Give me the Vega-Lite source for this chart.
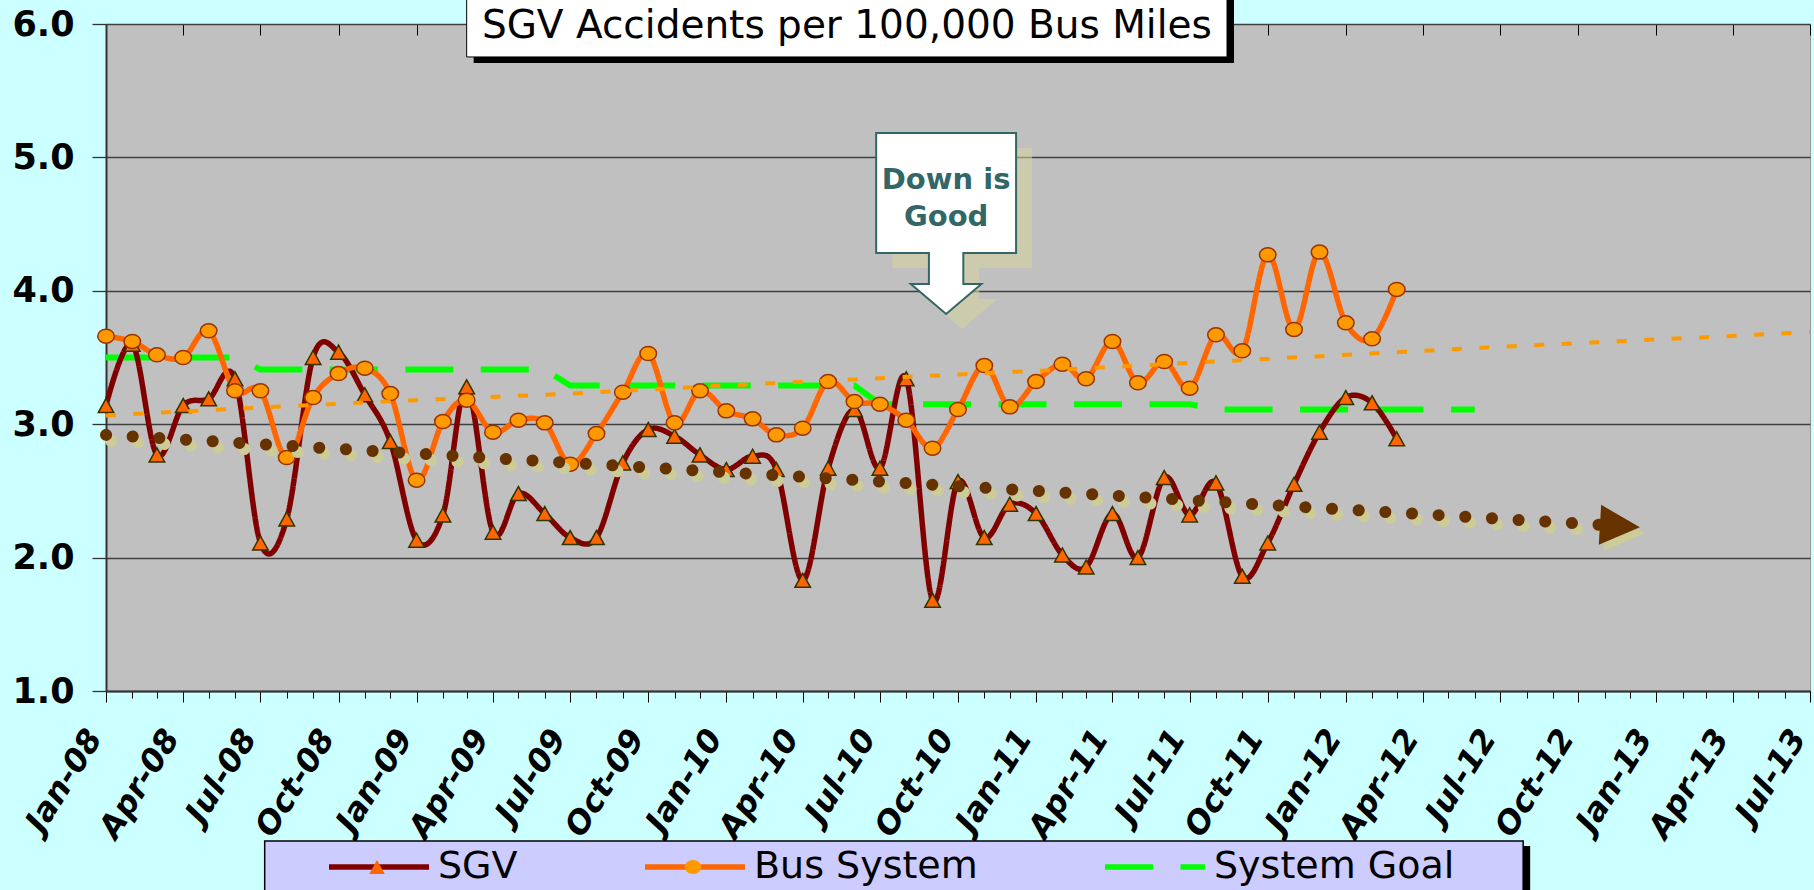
{
  "$schema": "https://vega.github.io/schema/vega-lite/v6.json",
  "width": 1704,
  "height": 667,
  "autosize": {"type": "none"},
  "padding": {"left": 106, "top": 24, "right": 4, "bottom": 199},
  "background": "#CCFFFF",
  "config": {
    "view": {"fill": "#C0C0C0", "stroke": "#999999", "strokeWidth": 1}
  },
  "datasets": {
    "series": [
      {"date": "2008/01/01", "series": "SGV", "value": 3.14},
      {"date": "2008/02/01", "series": "SGV", "value": 3.60},
      {"date": "2008/03/01", "series": "SGV", "value": 2.77},
      {"date": "2008/04/01", "series": "SGV", "value": 3.14},
      {"date": "2008/05/01", "series": "SGV", "value": 3.19},
      {"date": "2008/06/01", "series": "SGV", "value": 3.34},
      {"date": "2008/07/01", "series": "SGV", "value": 2.11},
      {"date": "2008/08/01", "series": "SGV", "value": 2.29},
      {"date": "2008/09/01", "series": "SGV", "value": 3.50},
      {"date": "2008/10/01", "series": "SGV", "value": 3.54},
      {"date": "2008/11/01", "series": "SGV", "value": 3.22},
      {"date": "2008/12/01", "series": "SGV", "value": 2.87},
      {"date": "2009/01/01", "series": "SGV", "value": 2.13},
      {"date": "2009/02/01", "series": "SGV", "value": 2.32},
      {"date": "2009/03/01", "series": "SGV", "value": 3.28},
      {"date": "2009/04/01", "series": "SGV", "value": 2.19},
      {"date": "2009/05/01", "series": "SGV", "value": 2.48},
      {"date": "2009/06/01", "series": "SGV", "value": 2.33},
      {"date": "2009/07/01", "series": "SGV", "value": 2.15},
      {"date": "2009/08/01", "series": "SGV", "value": 2.15},
      {"date": "2009/09/01", "series": "SGV", "value": 2.71},
      {"date": "2009/10/01", "series": "SGV", "value": 2.96},
      {"date": "2009/11/01", "series": "SGV", "value": 2.91},
      {"date": "2009/12/01", "series": "SGV", "value": 2.77},
      {"date": "2010/01/01", "series": "SGV", "value": 2.66},
      {"date": "2010/02/01", "series": "SGV", "value": 2.76},
      {"date": "2010/03/01", "series": "SGV", "value": 2.66},
      {"date": "2010/04/01", "series": "SGV", "value": 1.83},
      {"date": "2010/05/01", "series": "SGV", "value": 2.67},
      {"date": "2010/06/01", "series": "SGV", "value": 3.11},
      {"date": "2010/07/01", "series": "SGV", "value": 2.67},
      {"date": "2010/08/01", "series": "SGV", "value": 3.34},
      {"date": "2010/09/01", "series": "SGV", "value": 1.68},
      {"date": "2010/10/01", "series": "SGV", "value": 2.57},
      {"date": "2010/11/01", "series": "SGV", "value": 2.15},
      {"date": "2010/12/01", "series": "SGV", "value": 2.40},
      {"date": "2011/01/01", "series": "SGV", "value": 2.33},
      {"date": "2011/02/01", "series": "SGV", "value": 2.02},
      {"date": "2011/03/01", "series": "SGV", "value": 1.93},
      {"date": "2011/04/01", "series": "SGV", "value": 2.33},
      {"date": "2011/05/01", "series": "SGV", "value": 2.00},
      {"date": "2011/06/01", "series": "SGV", "value": 2.60},
      {"date": "2011/07/01", "series": "SGV", "value": 2.32},
      {"date": "2011/08/01", "series": "SGV", "value": 2.56},
      {"date": "2011/09/01", "series": "SGV", "value": 1.86},
      {"date": "2011/10/01", "series": "SGV", "value": 2.11},
      {"date": "2011/11/01", "series": "SGV", "value": 2.55},
      {"date": "2011/12/01", "series": "SGV", "value": 2.94},
      {"date": "2012/01/01", "series": "SGV", "value": 3.20},
      {"date": "2012/02/01", "series": "SGV", "value": 3.16},
      {"date": "2012/03/01", "series": "SGV", "value": 2.89},
      {"date": "2008/01/01", "series": "Bus System", "value": 3.66},
      {"date": "2008/02/01", "series": "Bus System", "value": 3.62},
      {"date": "2008/03/01", "series": "Bus System", "value": 3.52},
      {"date": "2008/04/01", "series": "Bus System", "value": 3.50},
      {"date": "2008/05/01", "series": "Bus System", "value": 3.70},
      {"date": "2008/06/01", "series": "Bus System", "value": 3.25},
      {"date": "2008/07/01", "series": "Bus System", "value": 3.25},
      {"date": "2008/08/01", "series": "Bus System", "value": 2.75},
      {"date": "2008/09/01", "series": "Bus System", "value": 3.20},
      {"date": "2008/10/01", "series": "Bus System", "value": 3.38},
      {"date": "2008/11/01", "series": "Bus System", "value": 3.42},
      {"date": "2008/12/01", "series": "Bus System", "value": 3.23},
      {"date": "2009/01/01", "series": "Bus System", "value": 2.58},
      {"date": "2009/02/01", "series": "Bus System", "value": 3.02},
      {"date": "2009/03/01", "series": "Bus System", "value": 3.18},
      {"date": "2009/04/01", "series": "Bus System", "value": 2.94},
      {"date": "2009/05/01", "series": "Bus System", "value": 3.03},
      {"date": "2009/06/01", "series": "Bus System", "value": 3.01},
      {"date": "2009/07/01", "series": "Bus System", "value": 2.70},
      {"date": "2009/08/01", "series": "Bus System", "value": 2.93},
      {"date": "2009/09/01", "series": "Bus System", "value": 3.24},
      {"date": "2009/10/01", "series": "Bus System", "value": 3.53},
      {"date": "2009/11/01", "series": "Bus System", "value": 3.01},
      {"date": "2009/12/01", "series": "Bus System", "value": 3.25},
      {"date": "2010/01/01", "series": "Bus System", "value": 3.10},
      {"date": "2010/02/01", "series": "Bus System", "value": 3.04},
      {"date": "2010/03/01", "series": "Bus System", "value": 2.92},
      {"date": "2010/04/01", "series": "Bus System", "value": 2.97},
      {"date": "2010/05/01", "series": "Bus System", "value": 3.32},
      {"date": "2010/06/01", "series": "Bus System", "value": 3.17},
      {"date": "2010/07/01", "series": "Bus System", "value": 3.15},
      {"date": "2010/08/01", "series": "Bus System", "value": 3.03},
      {"date": "2010/09/01", "series": "Bus System", "value": 2.82},
      {"date": "2010/10/01", "series": "Bus System", "value": 3.11},
      {"date": "2010/11/01", "series": "Bus System", "value": 3.44},
      {"date": "2010/12/01", "series": "Bus System", "value": 3.13},
      {"date": "2011/01/01", "series": "Bus System", "value": 3.32},
      {"date": "2011/02/01", "series": "Bus System", "value": 3.45},
      {"date": "2011/03/01", "series": "Bus System", "value": 3.34},
      {"date": "2011/04/01", "series": "Bus System", "value": 3.62},
      {"date": "2011/05/01", "series": "Bus System", "value": 3.31},
      {"date": "2011/06/01", "series": "Bus System", "value": 3.47},
      {"date": "2011/07/01", "series": "Bus System", "value": 3.27},
      {"date": "2011/08/01", "series": "Bus System", "value": 3.67},
      {"date": "2011/09/01", "series": "Bus System", "value": 3.55},
      {"date": "2011/10/01", "series": "Bus System", "value": 4.27},
      {"date": "2011/11/01", "series": "Bus System", "value": 3.71},
      {"date": "2011/12/01", "series": "Bus System", "value": 4.29},
      {"date": "2012/01/01", "series": "Bus System", "value": 3.76},
      {"date": "2012/02/01", "series": "Bus System", "value": 3.64},
      {"date": "2012/03/01", "series": "Bus System", "value": 4.01},
      {"date": "2008/01/01", "series": "System Goal", "value": 3.50},
      {"date": "2008/02/01", "series": "System Goal", "value": 3.50},
      {"date": "2008/03/01", "series": "System Goal", "value": 3.50},
      {"date": "2008/04/01", "series": "System Goal", "value": 3.50},
      {"date": "2008/05/01", "series": "System Goal", "value": 3.50},
      {"date": "2008/06/01", "series": "System Goal", "value": 3.50},
      {"date": "2008/07/01", "series": "System Goal", "value": 3.41},
      {"date": "2008/08/01", "series": "System Goal", "value": 3.41},
      {"date": "2008/09/01", "series": "System Goal", "value": 3.41},
      {"date": "2008/10/01", "series": "System Goal", "value": 3.41},
      {"date": "2008/11/01", "series": "System Goal", "value": 3.41},
      {"date": "2008/12/01", "series": "System Goal", "value": 3.41},
      {"date": "2009/01/01", "series": "System Goal", "value": 3.41},
      {"date": "2009/02/01", "series": "System Goal", "value": 3.41},
      {"date": "2009/03/01", "series": "System Goal", "value": 3.41},
      {"date": "2009/04/01", "series": "System Goal", "value": 3.41},
      {"date": "2009/05/01", "series": "System Goal", "value": 3.41},
      {"date": "2009/06/01", "series": "System Goal", "value": 3.41},
      {"date": "2009/07/01", "series": "System Goal", "value": 3.29},
      {"date": "2009/08/01", "series": "System Goal", "value": 3.29},
      {"date": "2009/09/01", "series": "System Goal", "value": 3.29},
      {"date": "2009/10/01", "series": "System Goal", "value": 3.29},
      {"date": "2009/11/01", "series": "System Goal", "value": 3.29},
      {"date": "2009/12/01", "series": "System Goal", "value": 3.29},
      {"date": "2010/01/01", "series": "System Goal", "value": 3.29},
      {"date": "2010/02/01", "series": "System Goal", "value": 3.29},
      {"date": "2010/03/01", "series": "System Goal", "value": 3.29},
      {"date": "2010/04/01", "series": "System Goal", "value": 3.29},
      {"date": "2010/05/01", "series": "System Goal", "value": 3.29},
      {"date": "2010/06/01", "series": "System Goal", "value": 3.29},
      {"date": "2010/07/01", "series": "System Goal", "value": 3.15},
      {"date": "2010/08/01", "series": "System Goal", "value": 3.15},
      {"date": "2010/09/01", "series": "System Goal", "value": 3.15},
      {"date": "2010/10/01", "series": "System Goal", "value": 3.15},
      {"date": "2010/11/01", "series": "System Goal", "value": 3.15},
      {"date": "2010/12/01", "series": "System Goal", "value": 3.15},
      {"date": "2011/01/01", "series": "System Goal", "value": 3.15},
      {"date": "2011/02/01", "series": "System Goal", "value": 3.15},
      {"date": "2011/03/01", "series": "System Goal", "value": 3.15},
      {"date": "2011/04/01", "series": "System Goal", "value": 3.15},
      {"date": "2011/05/01", "series": "System Goal", "value": 3.15},
      {"date": "2011/06/01", "series": "System Goal", "value": 3.15},
      {"date": "2011/07/01", "series": "System Goal", "value": 3.15},
      {"date": "2011/08/01", "series": "System Goal", "value": 3.11},
      {"date": "2011/09/01", "series": "System Goal", "value": 3.11},
      {"date": "2011/10/01", "series": "System Goal", "value": 3.11},
      {"date": "2011/11/01", "series": "System Goal", "value": 3.11},
      {"date": "2011/12/01", "series": "System Goal", "value": 3.11},
      {"date": "2012/01/01", "series": "System Goal", "value": 3.11},
      {"date": "2012/02/01", "series": "System Goal", "value": 3.11},
      {"date": "2012/03/01", "series": "System Goal", "value": 3.11},
      {"date": "2012/04/01", "series": "System Goal", "value": 3.11},
      {"date": "2012/05/01", "series": "System Goal", "value": 3.11},
      {"date": "2012/06/01", "series": "System Goal", "value": 3.11}
    ],
    "busTrend": [
      {"date": "2008/01/01", "value": 3.065},
      {"date": "2008/07/01", "value": 3.125},
      {"date": "2009/01/01", "value": 3.18},
      {"date": "2009/07/01", "value": 3.23},
      {"date": "2010/01/01", "value": 3.29},
      {"date": "2010/07/01", "value": 3.345},
      {"date": "2011/01/01", "value": 3.40},
      {"date": "2011/07/01", "value": 3.46},
      {"date": "2012/01/01", "value": 3.52},
      {"date": "2012/07/01", "value": 3.58},
      {"date": "2013/01/01", "value": 3.635},
      {"date": "2013/07/01", "value": 3.69}
    ],
    "sgvTrend": [
      {"date": "2008/01/01", "value": 2.92},
      {"date": "2009/01/01", "value": 2.78},
      {"date": "2010/01/01", "value": 2.64},
      {"date": "2011/01/01", "value": 2.50},
      {"date": "2012/01/01", "value": 2.36},
      {"date": "2012/11/19", "value": 2.237}
    ],
    "one": [{}]
  },
  "layer": [
    {
      "data": {"name": "series"},
      "transform": [{"filter": "datum.series == 'System Goal'"}],
      "mark": {"type": "line", "strokeWidth": 6, "interpolate": "linear", "strokeCap": "butt"},
      "encoding": {
        "x": {
          "field": "date", "type": "temporal",
          "scale": {"domain": [{"year": 2008, "month": 1, "date": 1}, {"year": 2013, "month": 7, "date": 1}]},
          "axis": {
            "title": null,
            "tickCount": {"interval": "month", "step": 1},
            "labelExpr": "month(datum.value) % 3 == 0 ? timeFormat(datum.value, '%b-%y') : ''",
            "labelAngle": -58, "labelAlign": "right", "labelBaseline": "middle",
            "labelOverlap": false, "labelFlush": false, "labelBound": false,
            "labelFont": "DejaVu Sans", "labelFontSize": 32, "labelFontWeight": "bold", "labelFontStyle": "italic",
            "labelColor": "#000000", "labelPadding": 30, "labelOffset": -12,
            "tickSize": {"condition": {"test": "month(datum.value) % 3 == 0", "value": 11}, "value": 7},
            "tickColor": "#000000", "tickWidth": 1,
            "domainColor": "#333333", "domainWidth": 2,
            "grid": true, "gridColor": "#000000", "gridWidth": 1, "gridDash": [11, 2000],
            "gridOpacity": {"condition": {"test": "month(datum.value) % 3 == 0", "value": 1}, "value": 0}
          }
        },
        "y": {
          "field": "value", "type": "quantitative",
          "scale": {"domain": [1, 6], "nice": false, "zero": false},
          "axis": {
            "title": null, "values": [1, 2, 3, 4, 5, 6], "format": ".1f",
            "grid": true, "gridColor": "#404040", "gridWidth": 1.3,
            "domainColor": "#333333", "domainWidth": 2,
            "tickColor": "#333333", "tickSize": 14, "tickWidth": 1.3,
            "labelPadding": 18, "labelFont": "DejaVu Sans", "labelFontSize": 35,
            "labelFontWeight": "bold", "labelColor": "#000000"
          }
        },
        "color": {
          "field": "series", "type": "nominal",
          "scale": {"domain": ["SGV", "Bus System", "System Goal"], "range": ["#800000", "#FF6600", "#00FF00"]},
          "legend": {
            "orient": "none", "legendX": 220, "legendY": 823, "direction": "horizontal", "columns": 3,
            "title": null, "symbolType": "stroke", "symbolSize": 10000, "symbolStrokeWidth": 5.5,
            "labelFont": "DejaVu Sans", "labelFontSize": 38, "labelColor": "#000000", "labelLimit": 600,
            "labelOffset": 6, "columnPadding": 124, "clipHeight": 40, "padding": 0,
            "values": ["SGV", "Bus System", "System Goal"]
          }
        },
        "strokeDash": {
          "field": "series", "type": "nominal",
          "scale": {"domain": ["SGV", "Bus System", "System Goal"], "range": [[1, 0], [1, 0], [48, 27.5]]}
        }
      }
    },
    {
      "data": {"name": "series"},
      "transform": [{"filter": "datum.series != 'System Goal'"}],
      "mark": {"type": "line", "strokeWidth": 5.5, "interpolate": "cardinal"},
      "encoding": {
        "x": {"field": "date", "type": "temporal"},
        "y": {"field": "value", "type": "quantitative"},
        "color": {"field": "series", "type": "nominal"},
        "strokeDash": {"field": "series", "type": "nominal"}
      }
    },
    {
      "data": {"name": "series"},
      "transform": [{"filter": "datum.series == 'SGV'"}],
      "mark": {"type": "point", "filled": true, "size": 10000, "opacity": 1, "stroke": "#333300", "strokeWidth": 1.5},
      "encoding": {
        "x": {"field": "date", "type": "temporal"},
        "y": {"field": "value", "type": "quantitative"},
        "shape": {
          "field": "series", "type": "nominal",
          "scale": {
            "domain": ["System Goal", "SGV", "Bus System"],
            "range": ["M0,0", "M-0.155,0.14L0.155,0.14L0,-0.14Z", "M-0.165,0A0.165,0.14,0,1,0,0.165,0A0.165,0.14,0,1,0,-0.165,0Z"]
          },
          "legend": {
            "orient": "none", "legendX": 220, "legendY": 823, "direction": "horizontal", "columns": 3,
            "title": null, "symbolSize": 10000, "symbolStrokeWidth": 1.5, "symbolStrokeColor": "#663300",
            "labelFont": "DejaVu Sans", "labelFontSize": 38, "labelOpacity": 0, "labelLimit": 600,
            "labelOffset": 10, "columnPadding": 124, "clipHeight": 40, "padding": 0, "zindex": 2,
            "values": ["SGV", "Bus System", "System Goal"]
          }
        },
        "fill": {
          "field": "series", "type": "nominal",
          "scale": {"domain": ["System Goal", "SGV", "Bus System"], "range": ["transparent", "#FF6600", "#FF9900"]}
        }
      }
    },
    {
      "data": {"name": "series"},
      "transform": [{"filter": "datum.series == 'Bus System'"}],
      "mark": {"type": "point", "filled": true, "size": 10000, "opacity": 1, "stroke": "#993300", "strokeWidth": 1.5},
      "encoding": {
        "x": {"field": "date", "type": "temporal"},
        "y": {"field": "value", "type": "quantitative"},
        "shape": {"field": "series", "type": "nominal"},
        "fill": {"field": "series", "type": "nominal"}
      }
    },
    {
      "data": {"name": "busTrend"},
      "mark": {"type": "line", "stroke": "#FF9900", "strokeWidth": 4, "strokeDash": [10, 17.5], "interpolate": "monotone"},
      "encoding": {
        "x": {"field": "date", "type": "temporal"},
        "y": {"field": "value", "type": "quantitative"}
      }
    },
    {
      "data": {"name": "sgvTrend"},
      "mark": {"type": "line", "stroke": "#CCCC99", "strokeWidth": 12, "strokeDash": [0.1, 26.6], "strokeCap": "round", "xOffset": 5, "yOffset": 6},
      "encoding": {
        "x": {"field": "date", "type": "temporal"},
        "y": {"field": "value", "type": "quantitative"}
      }
    },
    {
      "data": {"name": "sgvTrend"},
      "mark": {"type": "line", "stroke": "#663300", "strokeWidth": 12, "strokeDash": [0.1, 26.6], "strokeCap": "round"},
      "encoding": {
        "x": {"field": "date", "type": "temporal"},
        "y": {"field": "value", "type": "quantitative"}
      }
    },
    {
      "data": {"name": "one"},
      "mark": {"type": "point", "shape": "M-1,-1L1,0L-1,1Z", "size": 1600, "filled": true, "fill": "#CCCC99", "opacity": 1, "strokeWidth": 0, "angle": 3.4, "xOffset": 5, "yOffset": 6},
      "encoding": {
        "x": {"datum": {"year": 2012, "month": 11, "date": 19}, "type": "temporal"},
        "y": {"datum": 2.237, "type": "quantitative"}
      }
    },
    {
      "data": {"name": "one"},
      "mark": {"type": "point", "shape": "M-1,-1L1,0L-1,1Z", "size": 1600, "filled": true, "fill": "#663300", "opacity": 1, "strokeWidth": 0, "angle": 3.4},
      "encoding": {
        "x": {"datum": {"year": 2012, "month": 11, "date": 19}, "type": "temporal"},
        "y": {"datum": 2.237, "type": "quantitative"}
      }
    },
    {
      "data": {"name": "one"},
      "mark": {"type": "point", "shape": "M-0.773,-1L0.773,-1L0.773,0.326L0.19,0.326L0.19,0.668L0.39,0.668L0,1L-0.39,0.668L-0.19,0.668L-0.19,0.326L-0.773,0.326Z", "size": 32761, "filled": true, "fill": "#D6D49C", "fillOpacity": 0.55, "strokeWidth": 0, "xOffset": 16, "yOffset": 15},
      "encoding": {
        "x": {"datum": {"year": 2010, "month": 9, "date": 17}, "type": "temporal"},
        "y": {"datum": 4.5045, "type": "quantitative"}
      }
    },
    {
      "data": {"name": "one"},
      "mark": {"type": "point", "shape": "M-0.773,-1L0.773,-1L0.773,0.326L0.19,0.326L0.19,0.668L0.39,0.668L0,1L-0.39,0.668L-0.19,0.668L-0.19,0.326L-0.773,0.326Z", "size": 32761, "filled": true, "fill": "#FFFFFF", "opacity": 1, "stroke": "#336666", "strokeWidth": 2},
      "encoding": {
        "x": {"datum": {"year": 2010, "month": 9, "date": 17}, "type": "temporal"},
        "y": {"datum": 4.5045, "type": "quantitative"}
      }
    },
    {
      "data": {"name": "one"},
      "mark": {"type": "text", "text": ["Down is", "Good"], "font": "DejaVu Sans", "fontSize": 29, "fontWeight": "bold", "color": "#336666", "align": "center", "baseline": "middle", "lineHeight": 37},
      "encoding": {
        "x": {"datum": {"year": 2010, "month": 9, "date": 17}, "type": "temporal"},
        "y": {"datum": 4.831, "type": "quantitative"}
      }
    },
    {
      "data": {"name": "one"},
      "mark": {"type": "rect", "fill": "#000000", "xOffset": 7, "x2Offset": 7, "yOffset": 6, "y2Offset": 6},
      "encoding": {
        "x": {"datum": {"year": 2009, "month": 3, "date": 1}, "type": "temporal"},
        "x2": {"datum": {"year": 2011, "month": 8, "date": 14}},
        "y": {"datum": 6.25, "type": "quantitative"},
        "y2": {"datum": 5.753}
      }
    },
    {
      "data": {"name": "one"},
      "mark": {"type": "rect", "fill": "#FFFFFF", "stroke": "#000000", "strokeWidth": 1},
      "encoding": {
        "x": {"datum": {"year": 2009, "month": 3, "date": 1}, "type": "temporal"},
        "x2": {"datum": {"year": 2011, "month": 8, "date": 14}},
        "y": {"datum": 6.25, "type": "quantitative"},
        "y2": {"datum": 5.753}
      }
    },
    {
      "data": {"name": "one"},
      "mark": {"type": "text", "text": "SGV Accidents per 100,000 Bus Miles", "font": "DejaVu Sans", "fontSize": 39, "color": "#000000", "align": "center", "baseline": "middle"},
      "encoding": {
        "x": {"datum": {"year": 2010, "month": 5, "date": 23}, "type": "temporal"},
        "y": {"datum": 5.985, "type": "quantitative"}
      }
    },
    {
      "data": {"name": "one"},
      "mark": {"type": "rect", "fill": "#000000", "xOffset": 7, "x2Offset": 7, "yOffset": 5, "y2Offset": 5},
      "encoding": {
        "x": {"datum": {"year": 2008, "month": 7, "date": 6}, "type": "temporal"},
        "x2": {"datum": {"year": 2012, "month": 7, "date": 28}},
        "y": {"datum": -0.124, "type": "quantitative"},
        "y2": {"datum": -0.604}
      }
    },
    {
      "data": {"name": "one"},
      "mark": {"type": "rect", "fill": "#CCCCFF", "stroke": "#000000", "strokeWidth": 1.5},
      "encoding": {
        "x": {"datum": {"year": 2008, "month": 7, "date": 6}, "type": "temporal"},
        "x2": {"datum": {"year": 2012, "month": 7, "date": 28}},
        "y": {"datum": -0.124, "type": "quantitative"},
        "y2": {"datum": -0.604}
      }
    }
  ]
}
